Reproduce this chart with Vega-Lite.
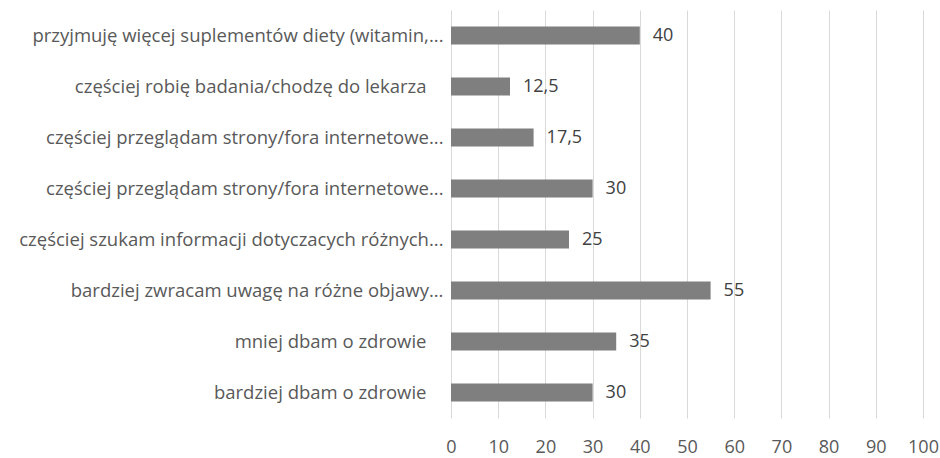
{
  "$schema": "https://vega.github.io/schema/vega-lite/v6.json",
  "width": 472,
  "height": 408,
  "autosize": {"type": "none"},
  "padding": {"left": 451, "top": 10, "right": 17, "bottom": 40},
  "background": "white",
  "config": {
    "view": {"stroke": null},
    "font": "Open Sans",
    "locale": {"number": {"decimal": ",", "thousands": " ", "grouping": [3], "currency": ["", " zł"]}}
  },
  "data": {
    "values": [
      {"label": "przyjmuję więcej suplementów diety (witamin,...", "value": 40, "order": 1},
      {"label": "częściej robię badania/chodzę do lekarza", "value": 12.5, "order": 2},
      {"label": "częściej przeglądam strony/fora internetowe...", "value": 17.5, "order": 3},
      {"label": "częściej przeglądam strony/fora internetowe...\u200b", "value": 30, "order": 4},
      {"label": "częściej szukam informacji dotyczacych różnych...", "value": 25, "order": 5},
      {"label": "bardziej zwracam uwagę na różne objawy...", "value": 55, "order": 6},
      {"label": "mniej dbam o zdrowie", "value": 35, "order": 7},
      {"label": "bardziej dbam o zdrowie", "value": 30, "order": 8}
    ]
  },
  "encoding": {
    "y": {
      "field": "label",
      "type": "nominal",
      "sort": {"field": "order", "order": "ascending"},
      "title": null,
      "axis": {
        "ticks": false,
        "domain": false,
        "labelFontSize": 18.5,
        "labelColor": "#595959",
        "labelPadding": {"condition": {"test": "indexof(datum.value, '...') < 0", "value": 25}, "value": 8},
        "labelLimit": 0,
        "labelFont": "Open Sans"
      }
    },
    "x": {
      "field": "value",
      "type": "quantitative",
      "scale": {"domain": [0, 100], "nice": false},
      "title": null,
      "axis": {
        "values": [0, 10, 20, 30, 40, 50, 60, 70, 80, 90, 100],
        "grid": true,
        "gridColor": "#d9d9d9",
        "gridWidth": 1,
        "domain": false,
        "ticks": false,
        "labelFontSize": 18,
        "labelColor": "#595959",
        "labelPadding": 20,
        "labelFlush": false,
        "labelFont": "Open Sans"
      }
    }
  },
  "layer": [
    {
      "mark": {"type": "bar", "size": 18, "color": "#7f7f7f"}
    },
    {
      "mark": {"type": "text", "align": "left", "baseline": "middle", "dx": 13, "fontSize": 18, "color": "#404040"},
      "encoding": {
        "text": {"field": "value", "type": "quantitative", "format": ".1~f"}
      }
    }
  ]
}
